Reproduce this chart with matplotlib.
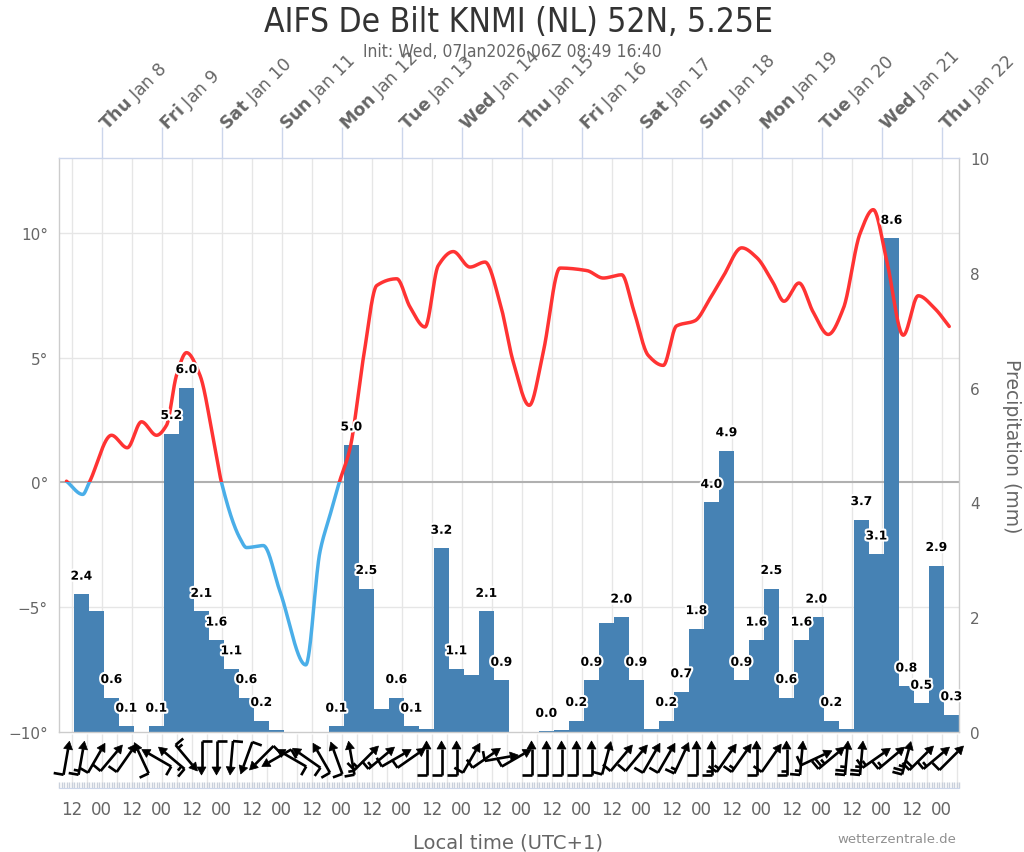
import numpy as np
import matplotlib
matplotlib.use("Agg")
import matplotlib.pyplot as plt
import matplotlib.patheffects as pe
from matplotlib.patches import Rectangle, Polygon
from matplotlib.transforms import blended_transform_factory
from matplotlib.ticker import FixedLocator

# ---------------- data ----------------
# time axis: hours after Wed 07 Jan 2026 07:00 local time (UTC+1)
T_MIN, T_MAX = 0, 360

# 6-hourly precipitation (bar left edge in hours)
precip_start_h = list(range(6, 360, 6))
precip_mm = [2.4, 2.1, 0.6, 0.1, 0.0, 0.1, 5.2, 6.0, 2.1, 1.6,
             1.1, 0.6, 0.2, 0.03, 0.0, 0.0, 0.0, 0.1, 5.0, 2.5,
             0.4, 0.6, 0.1, 0.05, 3.2, 1.1, 1.0, 2.1, 0.9, 0.0,
             0.0, 0.01, 0.03, 0.2, 0.9, 1.9, 2.0, 0.9, 0.05, 0.2,
             0.7, 1.8, 4.0, 4.9, 0.9, 1.6, 2.5, 0.6, 1.6, 2.0,
             0.2, 0.05, 3.7, 3.1, 8.6, 0.8, 0.5, 2.9, 0.3]
precip_label = ['2.4', '', '0.6', '0.1', '', '0.1', '5.2', '6.0', '2.1', '1.6',
                '1.1', '0.6', '0.2', '', '', '', '', '0.1', '5.0', '2.5',
                '', '0.6', '0.1', '', '3.2', '1.1', '', '2.1', '0.9', '',
                '', '0.0', '', '0.2', '0.9', '', '2.0', '0.9', '', '0.2',
                '0.7', '1.8', '4.0', '4.9', '0.9', '1.6', '2.5', '0.6', '1.6', '2.0',
                '0.2', '', '3.7', '3.1', '8.6', '0.8', '0.5', '2.9', '0.3']

# 2 m temperature (read at curve turning points)
temp_h = [3, 9.5, 12.1, 21, 27.3, 33, 39, 43, 47, 51,
          56.4, 61.7, 65, 72.4, 75, 81.7, 88.4, 98.7, 104.4, 108.4,
          112.1, 116.4, 121.7, 127.1, 135.1, 140.4, 146.4, 151.7, 157.7, 164.4,
          170.4, 176.4, 181.7, 188.1, 193.7, 200.4, 211.1, 217.7, 225.1, 229.7,
          235.7, 241.7, 247, 254.4, 260.4, 265.7, 273.1, 279.1, 285.7, 290,
          296, 301.7, 307.7, 313.7, 320.4, 325.7, 331.1, 337.7, 343.7, 350.4, 356.1]
temp_c = [0.05, -0.48, 0.0, 1.89, 1.39, 2.43, 1.89, 2.29, 4.29, 5.2,
          4.29, 1.76, 0.0, -2.24, -2.61, -2.53, -4.37, -7.31, -2.77, -1.31,
          0.0, 1.36, 4.96, 7.89, 8.16, 7.03, 6.23, 8.69, 9.25, 8.63,
          8.83, 7.2, 4.83, 3.09, 5.23, 8.59, 8.49, 8.19, 8.32, 6.96,
          5.09, 4.69, 6.27, 6.48, 7.37, 8.26, 9.4, 9.01, 7.99, 7.26,
          7.99, 6.82, 5.93, 6.96, 9.97, 10.93, 8.88, 5.9, 7.48, 6.96, 6.25]

# wind arrows (6-hourly): direction the arrow points (screen degrees), speed in kt
wind_h = list(range(3, 360, 6))
wind_dir = [80, 80, 60, 50, 55, 115, 150, 140, -50, -90,
            -90, -95, -110, -135, -150, 150, 145, 120, 110, 100,
            45, 40, 30, 35, 90, 90, 90, 60, 35, 10,
            30, 90, 90, 90, 90, 90, 75, 50, 50, 60,
            60, 65, 90, 90, 55, 55, 90, 55, 90, 85,
            25, 40, 85, 85, 35, 40, 75, 45, 40, 45]
wind_kt = [10, 15, 10, 10, 10, 10, 10, 15, 15, 10,
           10, 10, 10, 10, 10, 10, 10, 10, 10, 15,
           15, 15, 10, 10, 10, 10, 10, 10, 10, 10,
           10, 10, 10, 10, 10, 10, 10, 10, 10, 10,
           10, 15, 10, 15, 15, 15, 10, 10, 15, 15,
           10, 25, 25, 25, 15, 15, 25, 20, 15, 10]

day_tick_h = [17 + 24 * i for i in range(15)]
day_name = ['Thu', 'Fri', 'Sat', 'Sun', 'Mon', 'Tue', 'Wed', 'Thu',
            'Fri', 'Sat', 'Sun', 'Mon', 'Tue', 'Wed', 'Thu']
day_date = ['Jan 8', 'Jan 9', 'Jan 10', 'Jan 11', 'Jan 12', 'Jan 13', 'Jan 14',
            'Jan 15', 'Jan 16', 'Jan 17', 'Jan 18', 'Jan 19', 'Jan 20', 'Jan 21', 'Jan 22']

hour_tick_h = list(range(5, 360, 12))
hour_label = ['12', '00'] * 15

temp_ticks = [-10, -5, 0, 5, 10]
temp_tick_labels = ['\u221210\u00b0', '\u22125\u00b0', '0\u00b0', '5\u00b0', '10\u00b0']
precip_ticks = [0, 2, 4, 6, 8, 10]

title = 'AIFS De Bilt KNMI (NL) 52N, 5.25E'
subtitle = 'Init: Wed, 07Jan2026 06Z 08:49 16:40'

# ---------------- helpers ----------------
def pchip(x, y, xs):
    x = np.asarray(x, float); y = np.asarray(y, float)
    h = np.diff(x); d = np.diff(y) / h
    m = np.zeros_like(y)
    for i in range(1, len(y) - 1):
        if d[i - 1] * d[i] > 0:
            w1 = 2 * h[i] + h[i - 1]; w2 = h[i] + 2 * h[i - 1]
            m[i] = (w1 + w2) / (w1 / d[i - 1] + w2 / d[i])
    m[0] = d[0]; m[-1] = d[-1]
    idx = np.clip(np.searchsorted(x, xs) - 1, 0, len(h) - 1)
    s = (xs - x[idx]) / h[idx]
    h00 = 2 * s**3 - 3 * s**2 + 1
    h10 = s**3 - 2 * s**2 + s
    h01 = -2 * s**3 + 3 * s**2
    h11 = s**3 - s**2
    return h00 * y[idx] + h10 * h[idx] * m[idx] + h01 * y[idx + 1] + h11 * h[idx] * m[idx + 1]

# ---------------- figure ----------------
W, H = 1024, 853
fig = plt.figure(figsize=(W / 100, H / 100), dpi=100)
fig.patch.set_facecolor('white')

def fx(px): return px / W
def fy(py): return 1 - py / H

L, R, T, B = 59, 959, 159, 733
ax = fig.add_axes([fx(L), fy(B), (R - L) / W, (B - T) / H])
ax2 = ax.twinx()
WT, WB = 735, 789
wax = fig.add_axes([fx(L), fy(WB), (R - L) / W, (WB - WT) / H])

GRAY = '#666666'
GRID = '#e6e6e6'

# precipitation axis (right)
ax.bar(precip_start_h, precip_mm, width=6, align='edge', color='#4682b4',
       linewidth=0, zorder=2)
ax.set_xlim(T_MIN, T_MAX)
ax.set_ylim(0, 10)
ax.yaxis.tick_right()
ax.set_yticks(precip_ticks)
ax.set_yticklabels([str(v) for v in precip_ticks])
ax.tick_params(axis='y', length=0, pad=8, labelsize=11, labelcolor=GRAY)

# top day axis
ax.xaxis.set_ticks_position('top')
ax.set_xticks(day_tick_h)
ax.set_xticklabels([r'$\mathbf{%s}$ %s' % (n, d) for n, d in zip(day_name, day_date)])
ax.set_xticks([h - 12 for h in day_tick_h], minor=True)
ax.tick_params(axis='x', which='major', length=22.3, width=1, color='#ccd6eb',
               pad=2, labelsize=12.5, labelcolor=GRAY)
ax.tick_params(axis='x', which='minor', length=0)
for lbl in ax.get_xticklabels():
    lbl.set_rotation(45)
    lbl.set_rotation_mode('anchor')
    lbl.set_horizontalalignment('left')
    lbl.set_verticalalignment('center_baseline')
ax.grid(axis='x', which='both', color=GRID, lw=1)
ax.set_axisbelow(True)
for side, sp in ax.spines.items():
    sp.set_color('#cccccc')
    sp.set_linewidth(1)
ax.spines['top'].set_color('#ccd6eb')

# temperature axis (left)
ax2.set_ylim(-10, 13)
ax2.yaxis.tick_left()
ax2.set_yticks(temp_ticks)
ax2.set_yticklabels(temp_tick_labels)
ax2.tick_params(axis='y', length=0, pad=8, labelsize=11, labelcolor=GRAY)
for sp in ax2.spines.values():
    sp.set_visible(False)

trans = blended_transform_factory(ax.transAxes, ax2.transData)
for v in temp_ticks:
    if v == -10:
        continue
    ax.plot([0, 1], [v, v], transform=trans, color='#b0b0b0' if v == 0 else GRID,
            lw=1.5 if v == 0 else 1, zorder=1)
ax.set_xlim(T_MIN, T_MAX)
ax.set_ylim(0, 10)

ts = np.linspace(temp_h[0], temp_h[-1], 3000)
Ts = pchip(temp_h, temp_c, ts)
red, = ax2.plot(ts, Ts, color='#ff3333', lw=2.5, zorder=5, solid_capstyle='round')
blue, = ax2.plot(ts, Ts, color='#4aaee8', lw=2.5, zorder=5, solid_capstyle='round')
red.set_clip_path(Rectangle((T_MIN, 0), T_MAX - T_MIN, 40, transform=ax2.transData))
blue.set_clip_path(Rectangle((T_MIN, -40), T_MAX - T_MIN, 40, transform=ax2.transData))
ax2.set_xlim(T_MIN, T_MAX)

for x0, v, s in zip(precip_start_h, precip_mm, precip_label):
    if s:
        ax2.annotate(s, xy=(x0 + 3, v), xycoords=ax.transData, xytext=(0, 13),
                     textcoords='offset points', ha='center', va='center',
                     fontsize=8.8, fontweight='bold', color='black', zorder=10,
                     path_effects=[pe.withStroke(linewidth=3, foreground='white')])

# ---------------- wind area ----------------
wax.set_xlim(T_MIN, T_MAX)
wax.set_ylim(0, WB - WT)
wax.set_facecolor('none')
hp = (T_MAX - T_MIN) / (R - L)   # hours per pixel
wax.vlines(np.arange(5, 360, 6), 0, WB - WT, color=GRID, lw=1, zorder=0)
for x, ang, kt in zip(wind_h, wind_dir, wind_kt):
    a = np.deg2rad(ang)
    ux, uy = np.cos(a), np.sin(a)
    cy = 30
    half = 17
    hx, hy = ux * half, uy * half
    tx, ty = -hx, -hy
    bx, by = hx - ux * 8, hy - uy * 8
    wax.plot([x + tx * hp, x + bx * hp], [cy + ty, cy + by], color='black', lw=1.9,
             solid_capstyle='butt', clip_on=False, zorder=3)
    nx, ny = -uy, ux
    head = [(x + hx * hp, cy + hy),
            (x + (bx + nx * 4.5) * hp, cy + by + ny * 4.5),
            (x + (bx - nx * 4.5) * hp, cy + by - ny * 4.5)]
    wax.add_patch(Polygon(head, closed=True, facecolor='black', edgecolor='black',
                          lw=0.5, clip_on=False, zorder=3))
    nfull, nhalf = kt // 10, 1 if kt % 10 >= 5 else 0
    for i in range(nfull + nhalf):
        ln = 10 if i < nfull else 5.5
        px, py = tx + ux * 4 * i, ty + uy * 4 * i
        wax.plot([x + px * hp, x + (px + nx * ln) * hp], [cy + py, cy + py + ny * ln],
                 color='black', lw=1.9, solid_capstyle='butt', clip_on=False, zorder=3)

wax.set_yticks([])
for side in ['top', 'left', 'right']:
    wax.spines[side].set_visible(False)
wax.spines['bottom'].set_color('#ccd6eb')
wax.set_xticks(hour_tick_h)
wax.set_xticklabels(hour_label)
wax.xaxis.set_minor_locator(FixedLocator(np.arange(0, 361, 1)))
wax.tick_params(axis='x', which='both', direction='in', length=4, width=1,
                color='#c9d0db')
wax.tick_params(axis='x', which='major', pad=9, labelsize=12, labelcolor=GRAY)

# ---------------- texts ----------------
fig.text(fx(518), fy(23), title, ha='center', va='center', fontsize=24,
         color='#333333', fontstretch='condensed')
fig.text(fx(512), fy(52), subtitle, ha='center', va='center', fontsize=12.5,
         color=GRAY, fontstretch='condensed')
fig.text(fx(508), fy(843), 'Local time (UTC+1)', ha='center', va='center',
         fontsize=14, color=GRAY)
fig.text(fx(956), fy(840), 'wetterzentrale.de', ha='right', va='center',
         fontsize=9.5, color='#909090')
fig.text(fx(1012), fy(446), 'Precipitation (mm)', ha='center', va='center',
         rotation=270, fontsize=13.5, color=GRAY)

fig.savefig('out.png', dpi=100, facecolor='white')
